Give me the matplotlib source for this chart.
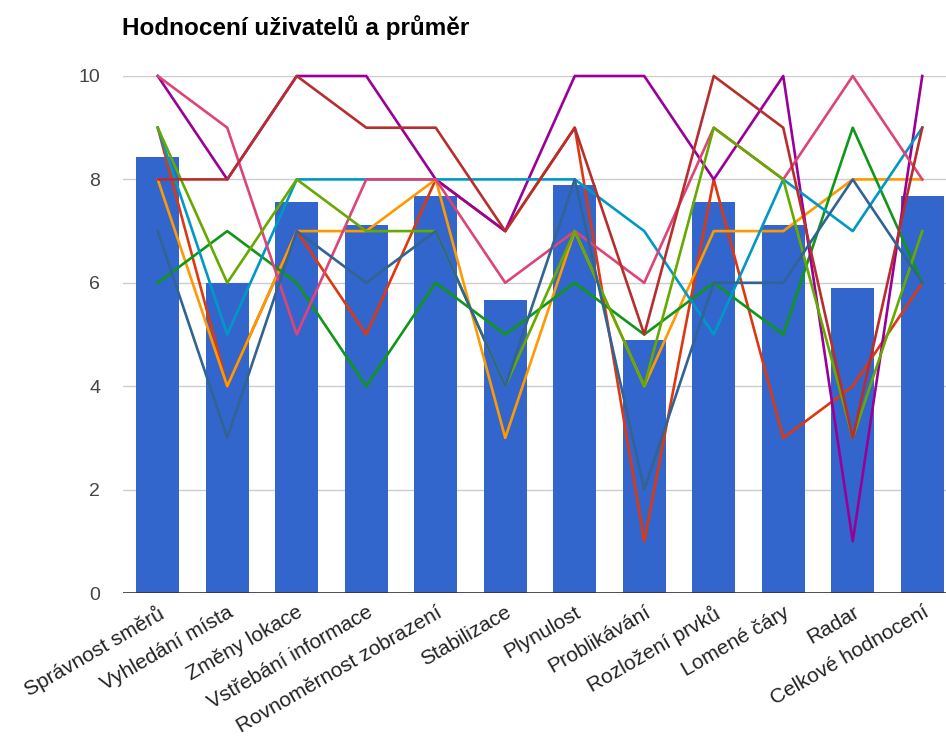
import matplotlib.pyplot as plt
import numpy as np

plt.rcParams['font.family'] = ['Liberation Sans', 'DejaVu Sans']

categories = ['Správnost směrů', 'Vyhledání místa', 'Změny lokace', 'Vstřebání informace',
              'Rovnoměrnost zobrazení', 'Stabilizace', 'Plynulost', 'Problikávání',
              'Rozložení prvků', 'Lomené čáry', 'Radar', 'Celkové hodnocení']

prumer = [8.44, 6.0, 7.56, 7.11, 7.67, 5.67, 7.89, 4.89, 7.56, 7.11, 5.89, 7.67]

u_red = [9, 4, 7, 5, 8, 7, 9, 1, 8, 3, 4, 6]
u_orange = [8, 4, 7, 7, 8, 3, 7, 4, 7, 7, 8, 8]
u_green = [6, 7, 6, 4, 6, 5, 6, 5, 6, 5, 9, 6]
u_purple = [10, 8, 10, 10, 8, 7, 10, 10, 8, 10, 1, 10]
u_cyan = [9, 5, 8, 8, 8, 8, 8, 7, 5, 8, 7, 9]
u_pink = [10, 9, 5, 8, 8, 6, 7, 6, 9, 8, 10, 8]
u_lime = [9, 6, 8, 7, 7, 4, 7, 4, 9, 8, 3, 7]
u_darkred = [8, 8, 10, 9, 9, 7, 9, 5, 10, 9, 3, 9]
u_darkblue = [7, 3, 7, 6, 7, 4, 8, 2, 6, 6, 8, 6]

users = [u_red, u_orange, u_green, u_purple, u_cyan, u_pink, u_lime, u_darkred, u_darkblue]
colors = ['#dc3912', '#ff9900', '#109618', '#990099', '#0099c6',
          '#dd4477', '#66aa00', '#b82e2e', '#316395']

fig = plt.figure(figsize=(9.46, 7.38), dpi=100)
ax = fig.add_axes([123 / 946, 145 / 738, 834 / 946, 517 / 738])

x = np.arange(len(categories))
ax.bar(x, prumer, width=0.62, color='#3366cc', zorder=2)
for vals, c in zip(users, colors):
    ax.plot(x, vals, color=c, linewidth=1.9, zorder=3, clip_on=False)

ax.set_xlim(-0.5, len(categories) - 0.5)
ax.set_ylim(0, 10)
ax.set_yticks([0, 2, 4, 6, 8, 10])
ax.yaxis.grid(True, color='#cccccc', linewidth=1, zorder=0)
ax.axhline(0, color='#333333', linewidth=1.2, zorder=4)
for s in ax.spines.values():
    s.set_visible(False)
ax.tick_params(axis='both', length=0, labelcolor='#444444')
ax.tick_params(axis='y', pad=16.5, labelsize=14)
ax.tick_params(axis='x', pad=7, labelsize=15)
ax.set_xticks(x)
ax.set_xticklabels(categories, rotation=30, ha='right', rotation_mode='anchor', color='#222222')

fig.text(122 / 946, 1 - 28 / 738, 'Hodnocení uživatelů a průměr', fontsize=17.5,
         fontweight='bold', va='center', ha='left', color='#000000')

plt.savefig('out.png', dpi=100)
